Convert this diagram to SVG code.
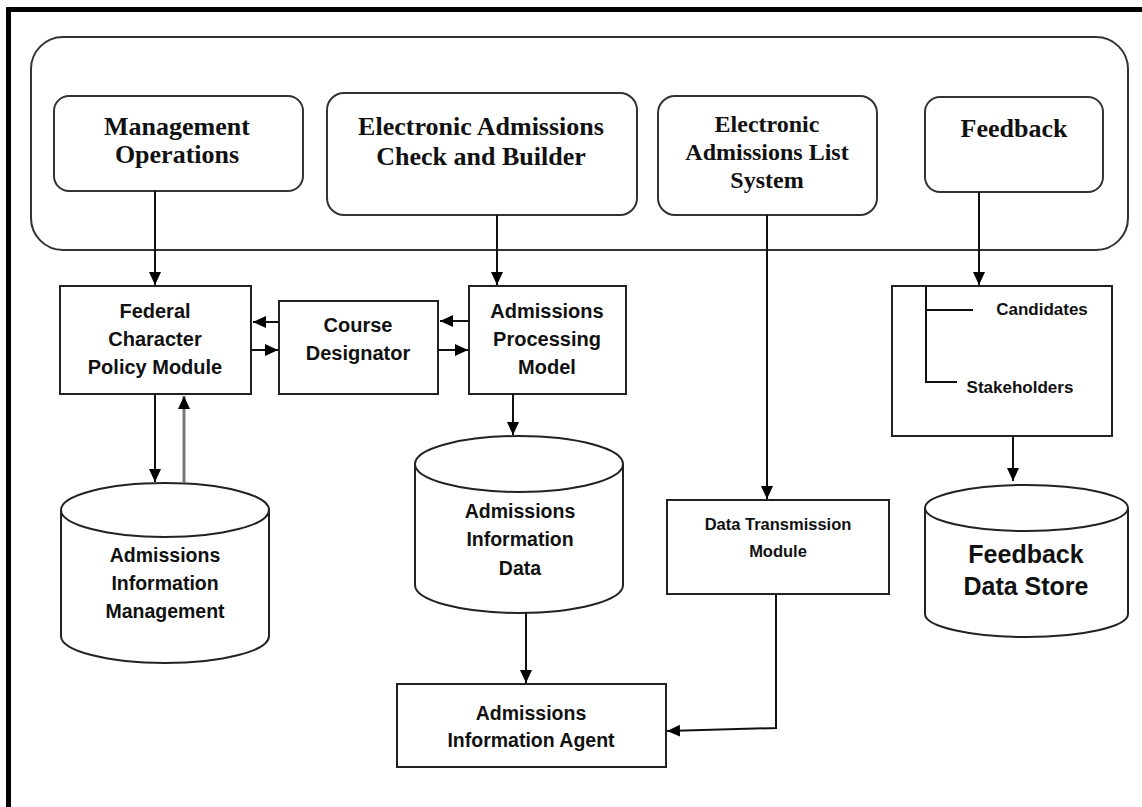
<svg xmlns="http://www.w3.org/2000/svg" width="1142" height="807" viewBox="0 0 1142 807">
<defs>
<marker id="ah" markerUnits="userSpaceOnUse" markerWidth="14" markerHeight="14" viewBox="0 0 14 14" refX="13" refY="7" orient="auto">
<path d="M0,1 L13,7 L0,13 Z" fill="#000"/>
</marker>
<style>
.box{fill:#fff;stroke:#222;stroke-width:2}
.rbox{fill:#fff;stroke:#333;stroke-width:2}
.ln{fill:none;stroke:#111;stroke-width:2}
.lng{fill:none;stroke:#777;stroke-width:3}
.ser{font-family:"Liberation Serif","Times New Roman",serif;font-weight:bold;fill:#111;text-anchor:middle}
.san{font-family:"Liberation Sans",Arial,sans-serif;font-weight:bold;fill:#111;text-anchor:middle}
</style>
</defs>
<rect width="1142" height="807" fill="#fff"/>
<g id="frame">
<path d="M8.5,807 V9.5 H1142" fill="none" stroke="#000" stroke-width="5"/>
</g>
<g id="container">
<rect x="31" y="37" width="1097" height="213" rx="32" class="rbox"/>
</g>
<g id="management-operations">
<rect x="54" y="96" width="249" height="95" rx="15" class="rbox"/>
<text class="ser" font-size="26" x="177" y="135">Management</text>
<text class="ser" font-size="26" x="177" y="163">Operations</text>
</g>
<g id="eacb">
<rect x="327" y="93" width="310" height="122" rx="17" class="rbox"/>
<text class="ser" font-size="26" x="481" y="135">Electronic Admissions</text>
<text class="ser" font-size="26" x="481" y="165">Check and Builder</text>
</g>
<g id="eals">
<rect x="658" y="96" width="219" height="119" rx="17" class="rbox"/>
<text class="ser" font-size="24" x="767" y="132">Electronic</text>
<text class="ser" font-size="24" x="767" y="160">Admissions List</text>
<text class="ser" font-size="24" x="767" y="188">System</text>
</g>
<g id="feedback">
<rect x="925" y="97" width="178" height="95" rx="15" class="rbox"/>
<text class="ser" font-size="26" x="1014" y="137">Feedback</text>
</g>
<g id="federal">
<rect x="60" y="286" width="191" height="108" class="box"/>
<text class="san" font-size="20" x="155" y="318">Federal</text>
<text class="san" font-size="20" x="155" y="346">Character</text>
<text class="san" font-size="20" x="155" y="374">Policy Module</text>
</g>
<g id="course">
<rect x="279" y="301" width="159" height="93" class="box"/>
<text class="san" font-size="20" x="358" y="332">Course</text>
<text class="san" font-size="20" x="358" y="360">Designator</text>
</g>
<g id="apm">
<rect x="469" y="286" width="157" height="108" class="box"/>
<text class="san" font-size="20" x="547" y="318">Admissions</text>
<text class="san" font-size="20" x="547" y="346">Processing</text>
<text class="san" font-size="20" x="547" y="374">Model</text>
</g>
<g id="aim">
<path d="M61,510 V636 A104,27 0 0 0 269,636 V510 A104,27 0 0 0 61,510 A104,27 0 0 0 269,510" class="box"/>
<text class="san" font-size="19.5" x="165" y="562">Admissions</text>
<text class="san" font-size="19.5" x="165" y="590">Information</text>
<text class="san" font-size="19.5" x="165" y="618">Management</text>
</g>
<g id="aid">
<path d="M415,464 V585 A104,28 0 0 0 623,585 V464 A104,28 0 0 0 415,464 A104,28 0 0 0 623,464" class="box"/>
<text class="san" font-size="19.5" x="520" y="518">Admissions</text>
<text class="san" font-size="19.5" x="520" y="546">Information</text>
<text class="san" font-size="19.5" x="520" y="575">Data</text>
</g>
<g id="dtm">
<rect x="667" y="500" width="222" height="94" class="box"/>
<text class="san" font-size="16.5" x="778" y="530">Data Transmission</text>
<text class="san" font-size="16.5" x="778" y="557">Module</text>
</g>
<g id="agent">
<rect x="397" y="684" width="269" height="83" class="box"/>
<text class="san" font-size="19.5" x="531" y="720">Admissions</text>
<text class="san" font-size="19.5" x="531" y="747">Information Agent</text>
</g>
<g id="feedback-group">
<rect x="892" y="286" width="220" height="150" class="box"/>
<path d="M926,286 V382 H957 M926,310 H973" class="ln"/>
<text class="san" font-size="17" x="1042" y="315">Candidates</text>
<text class="san" font-size="17" x="1020" y="393">Stakeholders</text>
</g>
<g id="fds">
<path d="M925,508 V614 A101.5,23 0 0 0 1128,614 V508 A101.5,23 0 0 0 925,508 A101.5,23 0 0 0 1128,508" class="box"/>
<text class="san" font-size="25" x="1026" y="563">Feedback</text>
<text class="san" font-size="25" x="1026" y="595">Data Store</text>
</g>
<g id="connectors">
<path d="M155,191 V285" class="ln" marker-end="url(#ah)"/>
<path d="M497,215 V285" class="ln" marker-end="url(#ah)"/>
<path d="M767,215 V499" class="ln" marker-end="url(#ah)"/>
<path d="M979,192 V285" class="ln" marker-end="url(#ah)"/>
<path d="M279,322 H253" class="ln" marker-end="url(#ah)"/>
<path d="M251,350 H278" class="ln" marker-end="url(#ah)"/>
<path d="M469,321 H440" class="ln" marker-end="url(#ah)"/>
<path d="M438,350 H468" class="ln" marker-end="url(#ah)"/>
<path d="M155,394 V482" class="ln" marker-end="url(#ah)"/>
<path d="M184,483 V396" class="lng" marker-end="url(#ah)"/>
<path d="M513,394 V435" class="ln" marker-end="url(#ah)"/>
<path d="M526,613 V683" class="ln" marker-end="url(#ah)"/>
<path d="M776,594 V728 L667,731" class="ln" marker-end="url(#ah)"/>
<path d="M1013,436 V481" class="ln" marker-end="url(#ah)"/>
</g>
</svg>
